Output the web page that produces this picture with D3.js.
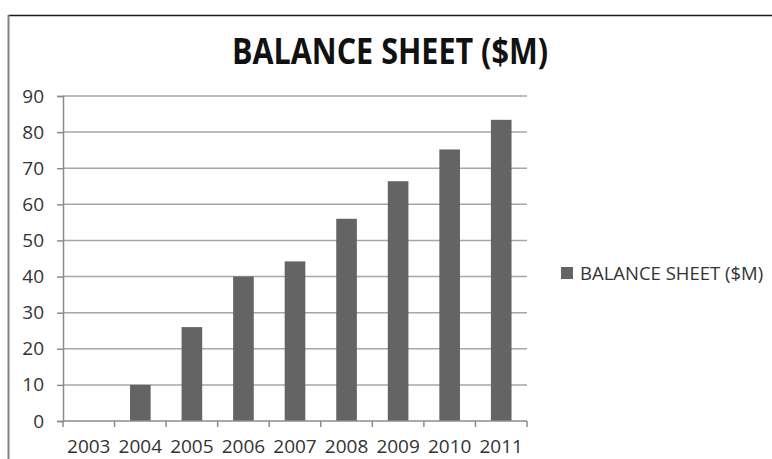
<!DOCTYPE html>
<html>
<head>
<meta charset="utf-8">
<script src="https://cdn.jsdelivr.net/npm/d3@7"></script>
<style>
  body { margin: 0; background: #fff; }
  text { font-family: "Open Sans", sans-serif; }
</style>
</head>
<body>
<div id="chart"></div>
<script>
// chart data
const years = ["2003", "2004", "2005", "2006", "2007", "2008", "2009", "2010", "2011"];
const balance = [0, 10, 26, 40, 44.2, 56, 66.4, 75.2, 83.4];
const yTicks = [0, 10, 20, 30, 40, 50, 60, 70, 80, 90];
const seriesName = "BALANCE SHEET ($M)";
const chartTitle = "BALANCE SHEET ($M)";

const svgWidth = 772;
const svgHeight = 459;

const plot = { left: 63, right: 527, top: 96, bottom: 421 };

const svg = d3.select('#chart')
  .append('svg')
  .attr('width', svgWidth)
  .attr('height', svgHeight)
  .style('display', 'block');

// outer frame (only top and left edges are visible in the crop)
svg.append('line')
  .attr('x1', 8).attr('x2', svgWidth)
  .attr('y1', 15.5).attr('y2', 15.5)
  .attr('stroke', '#1a1a1a').attr('stroke-width', 1.6);
svg.append('line')
  .attr('x1', 8.5).attr('x2', 8.5)
  .attr('y1', 15).attr('y2', svgHeight)
  .attr('stroke', '#808080').attr('stroke-width', 2);

// title
svg.append('text')
  .attr('x', 390)
  .attr('y', 64)
  .attr('text-anchor', 'middle')
  .attr('font-size', '35px')
  .attr('font-weight', 'bold')
  .attr('textLength', 316)
  .attr('lengthAdjust', 'spacingAndGlyphs')
  .attr('fill', '#111')
  .text(chartTitle);

// scales
const x = d3.scaleBand()
  .domain(years)
  .range([plot.left, plot.right])
  .paddingInner(0.6)
  .paddingOuter(0.3);

const y = d3.scaleLinear()
  .domain([0, 90])
  .range([plot.bottom, plot.top]);

// gridlines
svg.append('g')
  .selectAll('line')
  .data(yTicks.filter(d => d > 0))
  .enter()
  .append('line')
  .attr('x1', plot.left)
  .attr('x2', plot.right)
  .attr('y1', d => y(d))
  .attr('y2', d => y(d))
  .attr('stroke', '#a6a6a6')
  .attr('stroke-width', 1.5);

// y axis
const yAxis = svg.append('g')
  .attr('transform', `translate(${plot.left},0)`)
  .call(d3.axisLeft(y).tickValues(yTicks).tickSize(6).tickPadding(13));
yAxis.select('.domain').attr('stroke', '#8c8c8c').attr('stroke-width', 1.5);
yAxis.selectAll('.tick line').attr('stroke', '#8c8c8c').attr('stroke-width', 1.5);
yAxis.selectAll('.tick text')
  .attr('font-size', '19px')
  .attr('font-family', '"Open Sans", sans-serif')
  .attr('fill', '#333');

// bars
svg.selectAll('.bar')
  .data(balance)
  .enter()
  .append('rect')
  .attr('class', 'bar')
  .attr('x', (d, i) => x(years[i]))
  .attr('y', d => y(d))
  .attr('width', x.bandwidth())
  .attr('height', d => y(0) - y(d))
  .attr('fill', '#646464');

// x axis: ticks sit between categories
const step = x.step();
const xAxis = svg.append('g')
  .attr('transform', `translate(0,${plot.bottom})`);
xAxis.append('line')
  .attr('x1', plot.left).attr('x2', plot.right)
  .attr('stroke', '#8c8c8c').attr('stroke-width', 1.5);
xAxis.selectAll('.xtick')
  .data(d3.range(years.length + 1))
  .enter()
  .append('line')
  .attr('class', 'xtick')
  .attr('x1', i => plot.left + i * step)
  .attr('x2', i => plot.left + i * step)
  .attr('y1', 0).attr('y2', 6)
  .attr('stroke', '#8c8c8c').attr('stroke-width', 1.5);
xAxis.selectAll('.xlabel')
  .data(years)
  .enter()
  .append('text')
  .attr('class', 'xlabel')
  .attr('x', d => x(d) + x.bandwidth() / 2)
  .attr('y', 32)
  .attr('text-anchor', 'middle')
  .attr('font-size', '19px')
  .attr('fill', '#333')
  .text(d => d);

// legend
const legend = svg.append('g').attr('transform', 'translate(561,267)');
legend.append('rect')
  .attr('width', 12).attr('height', 12)
  .attr('fill', '#646464');
legend.append('text')
  .attr('x', 19)
  .attr('y', 13)
  .attr('font-size', '18.5px')
  .attr('fill', '#333')
  .text(seriesName);
</script>
</body>
</html>
